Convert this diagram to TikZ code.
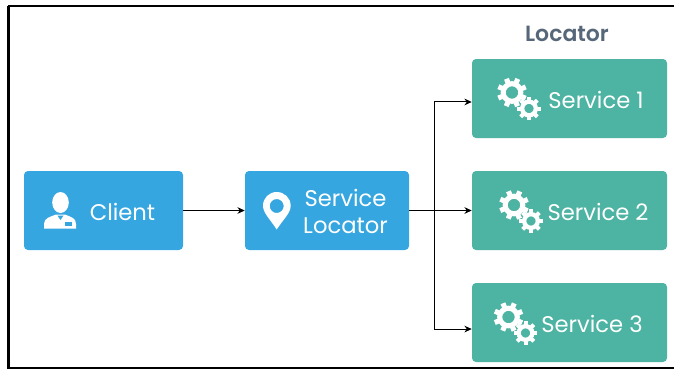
\documentclass[tikz,border=0pt]{standalone}
\usepackage{fontspec}
\setmainfont{Poppins}
\newfontfamily\titlefont{Poppins SemiBold}
\usetikzlibrary{arrows.meta}
\definecolor{clientblue}{RGB}{54,166,224}
\definecolor{servicegreen}{RGB}{77,179,162}
\definecolor{titleslate}{RGB}{87,103,122}
\tikzset{
  bluebox/.style={fill=clientblue,rounded corners=3pt,inner sep=0pt,minimum height=59.25pt},
  greenbox/.style={fill=servicegreen,rounded corners=3pt,inner sep=0pt,minimum width=146.25pt,minimum height=59.25pt},
  boxtext/.style={text=white,font=\fontsize{17}{20}\selectfont,inner sep=0pt},
  flow/.style={draw=black,line width=0.75pt,-{Stealth[length=5.5pt,width=5pt]}},
  gearicon/.pic={
    \foreach \a in {0,45,...,315} {\draw[white,line width=3.8pt] (\a+22:10.5) -- (\a+22:14.8);}
    \draw[white,line width=3.8pt] (0,0) circle (8.8);
    \begin{scope}[shift={(17,-16)}]
      \foreach \a in {0,45,...,315} {\draw[white,line width=3pt] (\a:8) -- (\a:11.7);}
      \draw[white,line width=3.2pt] (0,0) circle (6.8);
    \end{scope}
  },
}
\begin{document}
\begin{tikzpicture}[x=0.75pt,y=0.75pt,yscale=-1,xscale=1]
\useasboundingbox (0,0) rectangle (674,369);

%Frame
\draw [line width=2.25pt] (8.7,369) -- (8.7,6);
\draw [line width=1.5pt] (8,6) -- (674,6);
\draw [line width=1.1pt] (8,368) -- (674,368);

%Boxes
\node (client) at (103.5,210.5) [bluebox,minimum width=119.25pt] {};
\node (locator) at (327,210.5) [bluebox,minimum width=123pt] {};
\node (service1) at (569.5,98.5) [greenbox] {};
\node (service2) at (569.5,210.5) [greenbox] {};
\node (service3) at (569.5,322.5) [greenbox] {};

%Connectors
\coordinate (branch) at (434.5,210.5);
\draw [flow] (client.east) -- (locator.west);
\draw [flow] (locator.east) -- (service2.west);
\draw [flow] (branch) |- ([yshift=2.6pt]service1.west);
\draw [flow] (branch) |- ([yshift=4.9pt]service3.west);

%Client icon
\fill [white] (60.5,202.5) ellipse (8.3 and 10.5);
\fill [white] (44,228.5) -- (44,224) .. controls (44,218) and (50,217) .. (56,214.5) -- (65,214.5) .. controls (71,217) and (76,218) .. (76,224) -- (76,228.5) -- cycle;
\fill [clientblue] (57.5,215.5) -- (63.5,215.5) -- (60.5,220) -- cycle;
\fill [clientblue] (64.5,222) rectangle (72,225.7);

%Pin icon
\fill [white,even odd rule] (276.7,229.5) .. controls (270,219) and (263,213) .. (263,205.8) .. controls (263,198) and (269,192) .. (276.7,192) .. controls (284.5,192) and (290.7,198) .. (290.7,205.8) .. controls (290.7,213) and (283.5,219) .. (276.7,229.5) -- cycle (276.7,206) circle (7);

%Gear icons
\pic at (512,92.5) {gearicon};
\pic at (514,205) {gearicon};
\pic at (508.5,317) {gearicon};

% Text Node
\draw (122.5,211.5) node (clientlabel) [boxtext] {Client};
% Text Node
\draw (345.5,198) node (locatorlabela) [boxtext] {Service};
% Text Node
\draw (345.5,225.5) node (locatorlabelb) [boxtext] {Locator};
% Text Node
\draw (596,100) node (servicelabela) [boxtext] {Service 1};
% Text Node
\draw (598,212) node (servicelabelb) [boxtext] {Service 2};
% Text Node
\draw (592,323.5) node (servicelabelc) [boxtext] {Service 3};
% Text Node
\draw (567,33.5) node (title) [inner sep=0pt,text=titleslate,font=\fontsize{16.5}{20}\selectfont\titlefont] {Locator};

\end{tikzpicture}
\end{document}
